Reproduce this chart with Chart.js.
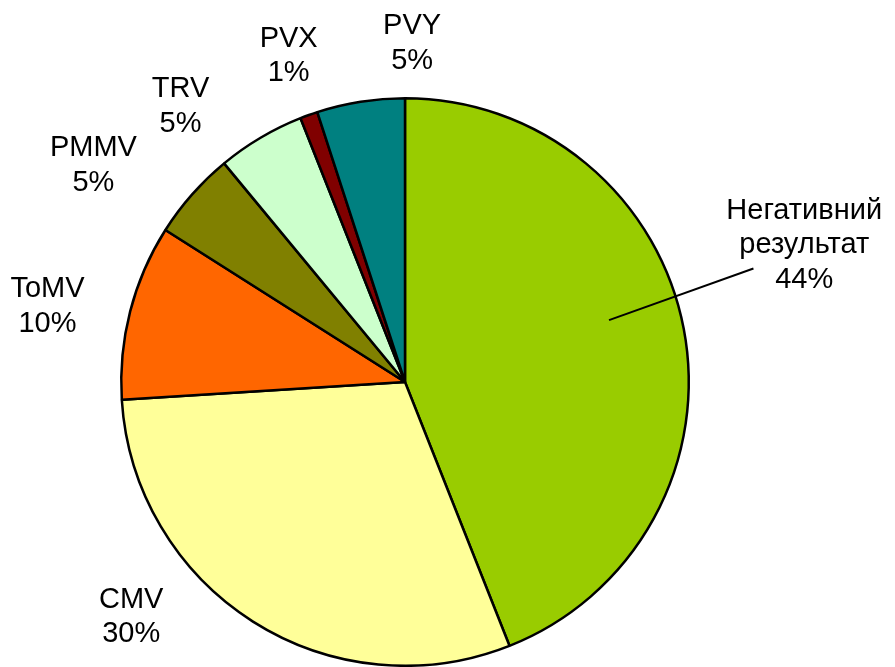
<!DOCTYPE html>
<html lang="uk">
<head>
    <meta charset="UTF-8">
    <title>Pie</title>
    <style>
        html, body { margin: 0; padding: 0; background: #fff; }
        #wrap { width: 895px; height: 667px; }
    </style>
</head>
<body>
    <div id="wrap"><canvas id="pie" width="895" height="667"></canvas></div>

<script src="https://cdn.jsdelivr.net/npm/chart.js"></script>
<script>
// dados do gráfico
const categorias = ['Негативний результат', 'CMV', 'ToMV', 'PMMV', 'TRV', 'PVX', 'PVY'];
const percentuais = [44, 30, 10, 5, 5, 1, 5];
const cores = ['#99CC00', '#FFFF99', '#FF6600', '#808000', '#CCFFCC', '#800000', '#008080'];

// onde fica cada rótulo, em frações do raio a partir do centro (x, y da 1a linha)
const posRotulos = [
    [1.407, -0.575], [-0.965, 0.796], [-1.26, -0.298], [-1.098, -0.796],
    [-0.791, -1.003], [-0.41, -1.182], [0.025, -1.225]
];

const rotulosPlugin = {
    id: 'rotulos',
    afterDatasetsDraw(chart) {
        const ctx = chart.ctx;
        const arc = chart.getDatasetMeta(0).data[0];
        const cx = arc.x, cy = arc.y, r = arc.outerRadius;
        ctx.save();
        ctx.font = '29px "Liberation Sans", Arial, sans-serif';
        ctx.fillStyle = '#000';
        ctx.textAlign = 'center';
        ctx.textBaseline = 'alphabetic';
        categorias.forEach((nome, i) => {
            let linhas = nome.split(' ');
            linhas.push(percentuais[i] + '%');
            const x = cx + posRotulos[i][0] * r;
            const y = cy + posRotulos[i][1] * r;
            linhas.forEach((l, k) => ctx.fillText(l, x, y + k * 34.5));
        });
        // linha guia do rótulo grande
        ctx.strokeStyle = '#000';
        ctx.lineWidth = 2;
        ctx.beginPath();
        ctx.moveTo(cx + 0.719 * r, cy - 0.218 * r);
        ctx.lineTo(cx + 1.228 * r, cy - 0.4 * r);
        ctx.stroke();
        ctx.restore();
    }
};

const ctx = document.getElementById('pie').getContext('2d');
new Chart(ctx, {
    type: 'pie',
    data: {
        labels: categorias,
        datasets: [{
            data: percentuais,
            backgroundColor: cores,
            borderColor: '#000',
            borderWidth: 2.5
        }]
    },
    options: {
        responsive: false,
        animation: false,
        layout: { padding: { left: 120, right: 205, top: 97, bottom: 0 } },
        plugins: {
            legend: { display: false },
            tooltip: { enabled: false }
        }
    },
    plugins: [rotulosPlugin]
});
</script>
</body>
</html>
